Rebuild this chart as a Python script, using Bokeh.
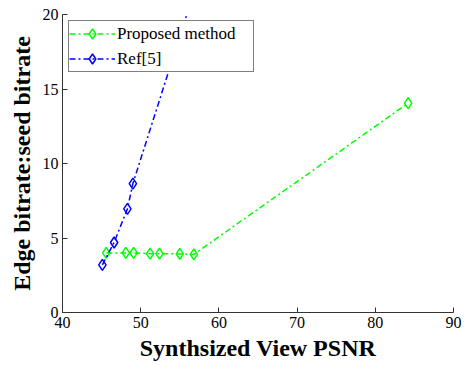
from bokeh.plotting import figure
from bokeh.models import FixedTicker, Range1d, Legend, LegendItem
from bokeh.embed import file_html
from bokeh.resources import INLINE

# Data
prop_x = [45.6, 48.1, 49.1, 51.2, 52.4, 55.0, 56.8, 84.2]
prop_y = [4.0, 4.0, 4.0, 3.95, 3.95, 3.93, 3.9, 14.05]
ref_x = [45.1, 46.6, 48.3, 49.0, 56.5]
ref_y = [3.2, 4.7, 6.95, 8.65, 21.0]
series_names = ["Proposed method", "Ref[5]"]
series_colors = ["#00ff00", "#0000ff"]
x_ticks = [40, 50, 60, 70, 80, 90]
y_ticks = [0, 5, 10, 15, 20]
x_title = "Synthsized View PSNR"
y_title = "Edge bitrate:seed bitrate"

FONT = "Liberation Serif"

p = figure(width=466, height=365, output_backend="svg", toolbar_location=None,
           x_range=Range1d(40, 90), y_range=Range1d(0, 20),
           min_border_left=62, min_border_right=13, min_border_top=14, min_border_bottom=53)
p.outline_line_color = None
p.grid.visible = False
p.background_fill_color = "white"

items = []
for name, xs, ys, col in zip(series_names, [prop_x, ref_x], [prop_y, ref_y], series_colors):
    l = p.line(xs, ys, line_color=col, line_width=1.5, line_dash="6 3 2 3")
    s = p.scatter(xs, ys, marker="diamond", size=11, fill_color=None, line_color=col,
                  line_width=1.5)
    items.append(LegendItem(label=name, renderers=[l, s]))

for ax, ticks in [(p.xaxis, x_ticks), (p.yaxis, y_ticks)]:
    ax.ticker = FixedTicker(ticks=ticks)
    ax.minor_tick_line_color = None
    ax.major_tick_in = 5
    ax.major_tick_out = 0
    ax.axis_line_color = "#333333"
    ax.major_tick_line_color = "#333333"
    ax.major_label_text_font = FONT
    ax.major_label_text_font_size = "16px"
    ax.major_label_text_color = "black"
    ax.axis_label_text_font = FONT
    ax.axis_label_text_font_style = "bold"
    ax.axis_label_text_font_size = "24px"
    ax.axis_label_text_color = "black"

p.xaxis.axis_label = x_title
p.yaxis.axis_label = y_title
p.xaxis.major_label_standoff = 4
p.yaxis.major_label_standoff = 4
p.xaxis.axis_label_standoff = 4
p.yaxis.axis_label_standoff = 5

lg = Legend(items=items, location="top_left", margin=6, padding=0, spacing=0,
            glyph_width=46, glyph_height=25, label_height=25, label_width=136,
            label_standoff=2, label_text_font=FONT, label_text_font_size="17px",
            label_text_color="black", border_line_color="black", border_line_width=1,
            background_fill_alpha=1.0)
p.add_layout(lg)

open("out.html", "w").write(file_html(p, INLINE))
